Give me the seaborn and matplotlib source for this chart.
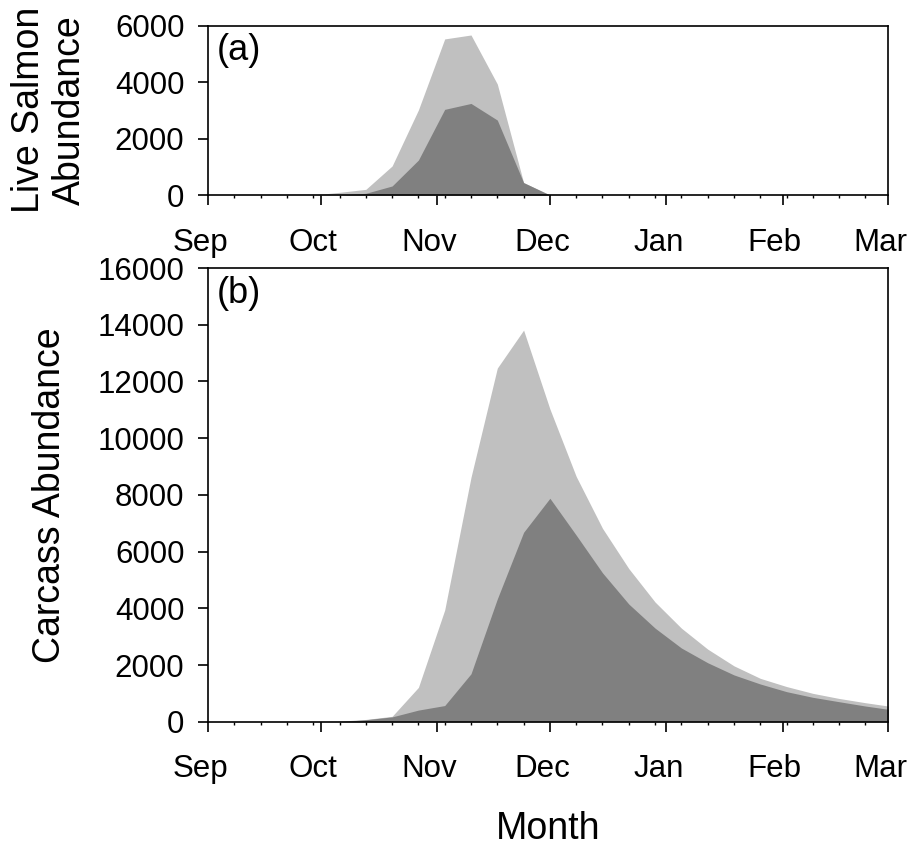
import matplotlib
matplotlib.use("Agg")
import matplotlib.pyplot as plt
import matplotlib.transforms as mtransforms
import pandas as pd
import seaborn as sns

# Month boundaries (days since 1 Sep) used as major ticks
month_labels = ["Sep", "Oct", "Nov", "Dec", "Jan", "Feb", "Mar"]
month_start_days = [0, 30, 61, 91, 122, 153, 181]

# Weekly sampling days since 1 Sep
sample_days = list(range(0, 183, 7))

# (a) live salmon abundance
live_upper = [0, 0, 0, 0, 0, 95, 200, 1030, 3020, 5540, 5680, 3940, 440, 0,
              0, 0, 0, 0, 0, 0, 0, 0, 0, 0, 0, 0, 0]
live_lower = [0, 0, 0, 0, 0, 0, 60, 320, 1240, 3040, 3250, 2660, 440, 0,
              0, 0, 0, 0, 0, 0, 0, 0, 0, 0, 0, 0, 0]

# (b) carcass abundance
carcass_upper = [0, 0, 0, 0, 0, 20, 80, 190, 1210, 3940, 8620, 12470, 13810,
                 11030, 8650, 6820, 5400, 4220, 3300, 2560, 1970, 1530, 1240,
                 1000, 820, 670, 535]
carcass_lower = [0, 0, 0, 0, 0, 0, 70, 170, 410, 570, 1690, 4330, 6680, 7880,
                 6580, 5250, 4150, 3300, 2600, 2080, 1650, 1330, 1060, 860,
                 705, 553, 420]

light_grey = "#c0c0c0"
dark_grey = "#808080"

sns.set_theme(style="ticks")
plt.rcParams["font.family"] = ["Liberation Sans", "DejaVu Sans"]
plt.rcParams["axes.linewidth"] = 1.2
plt.rcParams["axes.edgecolor"] = "black"
plt.rcParams["text.color"] = "black"
plt.rcParams["axes.labelcolor"] = "black"
plt.rcParams["xtick.color"] = "black"
plt.rcParams["ytick.color"] = "black"

df = pd.DataFrame({
    "day": sample_days,
    "live_upper": live_upper,
    "live_lower": live_lower,
    "carcass_upper": carcass_upper,
    "carcass_lower": carcass_lower,
})

fig = plt.figure(figsize=(9.12, 8.46), dpi=100)
ax_a = fig.add_axes([0.2281, 0.7695, 0.7456, 0.1998])
ax_b = fig.add_axes([0.2281, 0.1469, 0.7456, 0.5363])

# month labels sit slightly left of their ticks
label_shift = mtransforms.ScaledTranslation(-8 / 100, 0, fig.dpi_scale_trans)


def draw_panel(ax, upper, lower, ymax, ystep):
    for col, colour in ((upper, light_grey), (lower, dark_grey)):
        sns.lineplot(data=df, x="day", y=col, ax=ax, color=colour,
                     linewidth=0, legend=False)
        ax.fill_between(df["day"], df[col], 0, color=colour, linewidth=0)
    ax.set_xlim(0, 181)
    ax.set_ylim(0, ymax)
    ax.set_xticks(month_start_days, labels=month_labels)
    ax.set_xticks([d for d in sample_days if d not in month_start_days
                   and d <= 181], minor=True)
    ax.set_yticks(list(range(0, ymax + 1, ystep)))
    ax.set_xlabel("")
    ax.set_ylabel("")
    ax.tick_params(axis="both", which="major", direction="out", length=7,
                   width=1.2, labelsize=22.5, colors="black")
    ax.tick_params(axis="x", which="major", pad=16.5)
    ax.tick_params(axis="y", which="major", pad=10)
    ax.tick_params(axis="x", which="minor", direction="out", length=2,
                   width=1.0)
    ax.tick_params(top=False, right=False)
    for lbl in ax.get_xticklabels():
        lbl.set_transform(lbl.get_transform() + label_shift)
    for spine in ax.spines.values():
        spine.set_visible(True)
        spine.set_linewidth(1.2)
        spine.set_color("black")


draw_panel(ax_a, "live_upper", "live_lower", 6000, 2000)
draw_panel(ax_b, "carcass_upper", "carcass_lower", 16000, 2000)

fig.text(217 / 912, 1 - 33 / 846, "(a)", fontsize=26, ha="left", va="top")
fig.text(217 / 912, 1 - 276 / 846, "(b)", fontsize=26, ha="left", va="top")

fig.text(49.5 / 912, 1 - 110 / 846, "Live Salmon\nAbundance", fontsize=27,
         rotation=90, ha="center", va="center", multialignment="center",
         linespacing=1.15)
fig.text(50 / 912, 1 - 495 / 846, "Carcass Abundance", fontsize=27,
         rotation=90, ha="center", va="center")
fig.text(548 / 912, 1 - 839 / 846, "Month", fontsize=27,
         ha="center", va="baseline")

fig.savefig("out.png", dpi=100)
